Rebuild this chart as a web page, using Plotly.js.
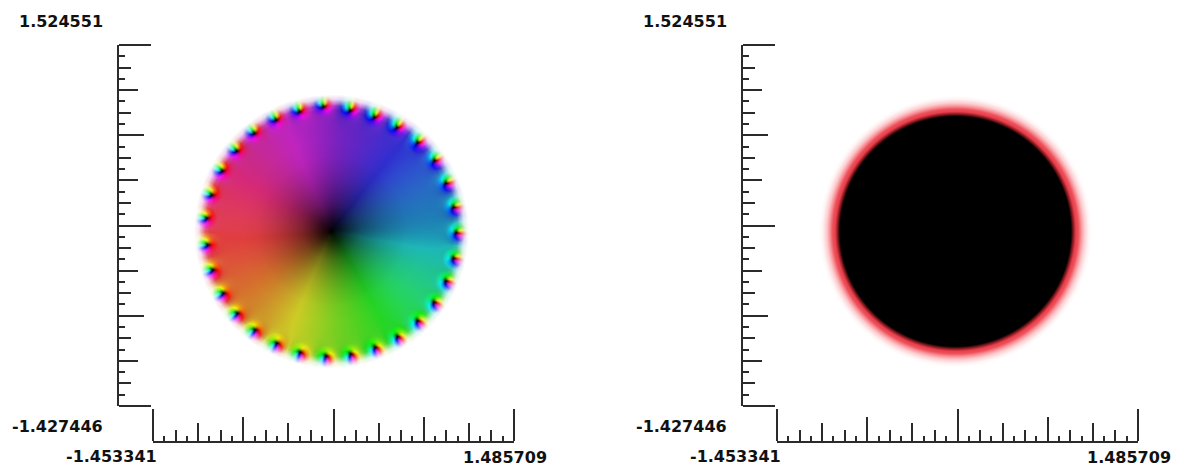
<!DOCTYPE html>
<html>
<head>
<meta charset="utf-8">
<script src="https://cdn.plot.ly/plotly-3.0.1.min.js"></script>
<style>html,body{margin:0;padding:0;background:#fff}#chart{width:1179px;height:467px}</style>
</head>
<body>
<div id="chart"></div>
<script>
// Axis extents printed on the reference
const xRange = [-1.453341, 1.485709];
const yRange = [-1.427446, 1.524551];
const xLabels = ['-1.453341', '1.485709'];
const yLabels = ['1.524551', '-1.427446'];

// Ruler tick hierarchy: 32 divisions, length depends on the divisor of the tick index
const tickDivisors = [16, 8, 4, 2, 1];
const tickLengths = [32, 25, 19, 12, 6];

// Rim zeros of the left field (data units)
const rimX = [0.151,0.348,0.531,0.699,0.837,0.930,0.992,1.014,0.992,0.930,0.834,0.699,0.536,0.354,0.156,-0.045,-0.256,-0.446,-0.623,-0.767,-0.881,-0.967,-1.008,-1.016,-0.975,-0.889,-0.772,-0.629,-0.452,-0.262,-0.067];
const rimY = [0.988,0.934,0.849,0.726,0.579,0.394,0.198,-0.010,-0.219,-0.405,-0.579,-0.729,-0.860,-0.947,-1.002,-1.018,-0.988,-0.914,-0.805,-0.669,-0.505,-0.315,-0.110,0.108,0.298,0.495,0.658,0.803,0.912,0.979,1.020];

// Colour read around the disc: hue every 22.5 degrees, counter-clockwise from +x
const phaseHue   = [195,213,233,256,278,300,321,340,356,373,394,420,446,471,497,523];
// Saturation and lightness every 45 degrees
const phaseSat   = [0.72,0.63,0.70,0.66,0.72,0.66,0.72,0.70];
const phaseLight = [0.41,0.50,0.44,0.47,0.56,0.49,0.47,0.49];

// Radial profile of the left field: brightness growing away from the centre
const ampR = [0,0.04,0.08,0.16,0.24,0.33,0.41,0.49,0.61,0.73,0.98];
const ampV = [0,0.12,0.20,0.40,0.57,0.70,0.80,0.88,0.97,1,1];
// Fade to white beyond the rim
const fadeR = [0.99,1.025,1.05,1.08,1.12];
const fadeV = [0,0.12,0.45,0.82,1];
// Darkening around a rim zero, by distance
const coreD = [0,0.014,0.026,0.04,0.055];
const coreV = [0,0.40,0.75,0.96,1];
// Reach of the pure colours around a rim zero
const lobeD = [0.03,0.09];
const lobeV = [1,0];
const rimDipole = 0.12;

// Radial profile of the right field
const ringR = [0.94,0.96,0.98,1.0,1.025,1.05,1.085,1.11];
const ringCr = [0,140,232,238,248,252,255,255];
const ringCg = [0,25,64,80,150,205,245,255];
const ringCb = [0,30,78,90,155,208,245,255];

function lerp(xs, ys, x){
  if (x <= xs[0]) return ys[0];
  const n = xs.length - 1;
  if (x >= xs[n]) return ys[n];
  let i = 0;
  while (x > xs[i+1]) i++;
  return ys[i] + (ys[i+1]-ys[i])*(x-xs[i])/(xs[i+1]-xs[i]);
}
// Periodic Catmull-Rom read of a table around the circle; wrap = added per full turn
function ring(table, deg, wrap){
  const n = table.length, s = deg/360*n, i = Math.floor(s), t = s-i;
  const at = k => table[((k%n)+n)%n] + wrap*Math.floor(k/n);
  const p0=at(i-1),p1=at(i),p2=at(i+1),p3=at(i+2);
  return 0.5*(2*p1+(p2-p0)*t+(2*p0-5*p1+4*p2-p3)*t*t+(3*p1-p0-3*p2+p3)*t*t*t);
}
function hsl(h,s,l){
  h = ((h%360)+360)%360;
  const c = (1-Math.abs(2*l-1))*s, hp = h/60, x = c*(1-Math.abs(hp%2-1));
  let r=0,g=0,b=0;
  if(hp<1){r=c;g=x;} else if(hp<2){r=x;g=c;} else if(hp<3){g=c;b=x;}
  else if(hp<4){g=x;b=c;} else if(hp<5){r=x;b=c;} else {r=c;b=x;}
  const m = l-c/2;
  return [(r+m)*255,(g+m)*255,(b+m)*255];
}

const SIZE = 361;
const dx = (xRange[1]-xRange[0])/SIZE, dy = (yRange[1]-yRange[0])/SIZE;
const outerX = rimX.map((v,i)=>v*(1+rimDipole/Math.hypot(v,rimY[i])));
const outerY = rimY.map((v,i)=>v*(1+rimDipole/Math.hypot(rimX[i],v)));

function leftPixel(x,y){
  const r = Math.hypot(x,y);
  if (r > 1.2) return [255,255,255];
  let deg = Math.atan2(y,x)*180/Math.PI; if (deg<0) deg+=360;
  let shift = 0, core = 1, lobe = 0;
  for (let k=0;k<rimX.length;k++){
    let a = Math.atan2(y-rimY[k],x-rimX[k]) - Math.atan2(y-outerY[k],x-outerX[k]);
    if (a>Math.PI) a-=2*Math.PI; if (a<-Math.PI) a+=2*Math.PI;
    shift += a;
    const d = Math.hypot(x-rimX[k],y-rimY[k]);
    if (d<0.055) core *= lerp(coreD,coreV,d);
    if (d<0.09) lobe = Math.max(lobe,lerp(lobeD,lobeV,d));
  }
  const hue = ring(phaseHue,deg,360)+shift*180/Math.PI;
  const s0 = ring(phaseSat,deg,0), l0 = ring(phaseLight,deg,0);
  const c = hsl(hue,s0+(1-s0)*lobe,l0+(0.5-l0)*lobe);
  const amp = lerp(ampR,ampV,r)*core;
  const t = lerp(fadeR,fadeV,r)*core*(1-0.5*lobe);
  return c.map(v=>Math.round(v*amp*(1-t)+255*t));
}
function rightPixel(x,y){
  const r = Math.hypot(x,y);
  return [Math.round(lerp(ringR,ringCr,r)),Math.round(lerp(ringR,ringCg,r)),Math.round(lerp(ringR,ringCb,r))];
}
function field(fn){
  const z = [];
  for (let j=0;j<SIZE;j++){
    const row = [], y = yRange[0]+(j+0.5)*dy;
    for (let i=0;i<SIZE;i++) row.push(fn(xRange[0]+(i+0.5)*dx,y));
    z.push(row);
  }
  return z;
}

const W = 1179, H = 467, OFFSET = 624;
const data = [], annotations = [];
const layout = {width:W,height:H,margin:{l:0,r:0,t:0,b:0,pad:0},paper_bgcolor:'#fff',plot_bgcolor:'#fff',showlegend:false,hovermode:false};
const INK = '#2b2b2b';
const yDomain = [(H-406)/H,(H-45)/H];
const tickIdx = Array.from({length:33},(_,i)=>i);

[leftPixel,rightPixel].forEach((fn,p)=>{
  const off = p*OFFSET, base = p*6+1;
  const xDomain = [(153+off)/W,(514+off)/W];
  const idName = n=> n===1?'':String(n);
  layout['xaxis'+idName(base)] = {domain:xDomain,range:xRange,visible:false,anchor:'y'+idName(base),fixedrange:true};
  layout['yaxis'+idName(base)] = {domain:yDomain,range:yRange,visible:false,anchor:'x'+idName(base),scaleanchor:false,fixedrange:true};
  data.push({type:'image',z:field(fn),x0:xRange[0]+dx/2,dx:dx,y0:yRange[0]+dy/2,dy:dy,xaxis:'x'+idName(base),yaxis:'y'+idName(base),hoverinfo:'skip'});
  tickDivisors.forEach((div,l)=>{
    const id = base+1+l;
    const picks = tickIdx.filter(i=> i%div===0 && (l===0 || i%tickDivisors[l-1]!==0));
    const common = {tickmode:'array',ticktext:picks.map(()=>''),showticklabels:false,ticks:'outside',ticklen:tickLengths[l],tickwidth:2,tickcolor:INK,showgrid:false,zeroline:false,showline:l===0,linecolor:INK,linewidth:2,anchor:'free',fixedrange:true};
    layout['xaxis'+id] = Object.assign({},common,{domain:xDomain,range:xRange,overlaying:'x'+idName(base),side:'top',position:(H-442)/H,tickvals:picks.map(i=>xRange[0]+i*(xRange[1]-xRange[0])/32)});
    layout['yaxis'+id] = Object.assign({},common,{domain:yDomain,range:yRange,overlaying:'y'+idName(base),side:'right',position:(117.5+off)/W,tickvals:picks.map(i=>yRange[0]+i*(yRange[1]-yRange[0])/32)});
    data.push({type:'scatter',mode:'lines',x:[null],y:[null],xaxis:'x'+id,yaxis:'y'+id,hoverinfo:'skip'});
  });
  const font = {family:'"DejaVu Sans", sans-serif',size:16,color:'#111'};
  const note = (text,px,py)=>annotations.push({text:'<b>'+text+'</b>',xref:'paper',yref:'paper',x:(px+off)/W,y:1-py/H,xanchor:'right',yanchor:'middle',showarrow:false,font:font,borderpad:0});
  note(yLabels[0],104,21);
  note(yLabels[1],104,426);
  note(xLabels[0],158,456);
  note(xLabels[1],548,457);
});
layout.annotations = annotations;
Plotly.newPlot('chart',data,layout,{displayModeBar:false,staticPlot:true});
</script>
</body>
</html>
